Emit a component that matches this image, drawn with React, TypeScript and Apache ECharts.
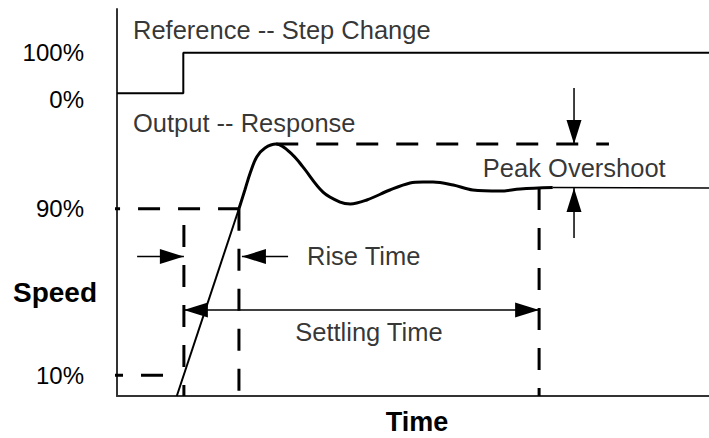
import React, { useEffect, useRef } from 'react';
import * as echarts from 'echarts';

// ---- axes ----
const timeMax = 100;
const speedMax = 186;
const yTickValues = [10, 90, 145.5, 165];
const yTickLabels = ['10%', '90%', '0%', '100%'];

// ---- reference step ----
const referenceX = [0, 11.2, 11.2, 100];
const referenceY = [145.5, 145.5, 165, 165];

// ---- output response ----
const riseX = [10.1, 20.6];
const riseY = [0, 90];
const responseX = [20.6, 21.6, 22.5, 23.6, 25.0, 26.9, 29.7, 31.4, 34.8, 37.7, 39.4, 42.2, 46.1, 49.5, 51.7, 53.4, 56.8, 60.1, 64.7, 68.1, 73.6];
const responseY = [90, 99, 107.2, 114.9, 119.2, 121.1, 115.8, 110.1, 98, 93.2, 92.3, 94.2, 99, 102.4, 102.9, 102.9, 101.4, 99, 98.5, 99.5, 100.2];
const settledX = [73.6, 100];
const settledY = [100.2, 100];

// ---- dashed guides: [x1, y1, x2, y2] ----
const guides = [
  [-3.2, 90, 20.6, 90],
  [-2.7, 10, 8.1, 10],
  [11.3, 82.2, 11.3, 0],
  [20.6, 90, 20.6, 0],
  [71.3, 100, 71.3, 0],
  [26.9, 121.1, 83.1, 121.1],
];

// ---- arrows: [xFrom, yFrom, xTip, yTip, doubleHeaded] ----
const arrows = [
  [3.4, 67, 11.3, 67, 0],
  [28.9, 67, 21.1, 67, 0],
  [11.3, 41.3, 71.3, 41.3, 1],
  [77.2, 148, 77.2, 121.1, 0],
  [77.2, 75.9, 77.2, 100, 0],
];

// ---- annotation texts ----
const annotationTexts = ['Reference -- Step Change', 'Output -- Response', 'Peak Overshoot', 'Rise Time', 'Settling Time'];
const annotationX = [2.7, 2.7, 61.8, 32.1, 30.1];
const annotationY = [176, 131.4, 109.6, 67.3, 30.8];

const FONT = '"Liberation Sans", Arial, Helvetica, sans-serif';

const zip = (xs: number[], ys: number[]) => xs.map((x, i) => [x, ys[i]]);

export default function App() {
  const ref = useRef<HTMLDivElement>(null);
  useEffect(() => {
    if (!ref.current) return;
    const chart = echarts.init(ref.current, null, { renderer: 'svg' });

    const guideSeries = guides.map((g) => ({
      type: 'line',
      data: [[g[0], g[1]], [g[2], g[3]]],
      symbol: 'none',
      clip: false,
      silent: true,
      lineStyle: { color: '#000', width: 3, type: [22, 18] },
    }));

    const option: any = {
      animation: false,
      grid: { left: 117, top: 9, width: 592, height: 387, containLabel: false, outerBoundsMode: 'none' },
      graphic: [
        {
          type: 'text',
          left: 13,
          top: 278,
          style: { text: 'Speed', font: `bold 28px ${FONT}`, fill: '#000' },
        },
      ],
      xAxis: {
        type: 'value',
        min: 0,
        max: timeMax,
        splitLine: { show: false },
        axisTick: { show: false },
        axisLabel: { show: false },
        axisLine: { show: true, lineStyle: { color: '#333', width: 2 } },
        name: 'Time',
        nameLocation: 'middle',
        nameGap: 15,
        nameTextStyle: {
          fontFamily: FONT,
          fontWeight: 'bold',
          fontSize: 27,
          lineHeight: 22,
          color: '#000',
          padding: [0, 0, 0, 8],
        },
      },
      yAxis: {
        type: 'value',
        min: 0,
        max: speedMax,
        splitLine: { show: false },
        axisTick: { show: false },
        axisLine: { show: true, lineStyle: { color: '#333', width: 2 } },
        axisLabel: {
          customValues: yTickValues,
          margin: 33,
          fontFamily: FONT,
          fontSize: 24,
          color: '#000',
          formatter: (v: number) => {
            const i = yTickValues.findIndex((t) => Math.abs(t - v) < 1e-6);
            const label = i >= 0 ? yTickLabels[i] : '';
            return label === '0%' ? '{lo|' + label + '}' : label;
          },
          rich: { lo: { fontFamily: FONT, fontSize: 24, color: '#000', padding: [12, 0, 0, 0] } },
        },
      },
      series: [
        {
          type: 'line',
          data: zip(referenceX, referenceY),
          symbol: 'none',
          silent: true,
          lineStyle: { color: '#000', width: 2 },
        },
        {
          type: 'line',
          data: zip(riseX, riseY),
          symbol: 'none',
          silent: true,
          lineStyle: { color: '#000', width: 2 },
        },
        {
          type: 'line',
          data: zip(responseX, responseY),
          symbol: 'none',
          smooth: 0.35,
          silent: true,
          lineStyle: { color: '#000', width: 3 },
        },
        {
          type: 'line',
          data: zip(settledX, settledY),
          symbol: 'none',
          silent: true,
          lineStyle: { color: '#000', width: 1.5 },
        },
        ...guideSeries,
        {
          type: 'custom',
          silent: true,
          clip: false,
          data: arrows,
          renderItem: (_params: any, api: any) => {
            const p1 = api.coord([api.value(0), api.value(1)]);
            const p2 = api.coord([api.value(2), api.value(3)]);
            const both = api.value(4) === 1;
            const dx = p2[0] - p1[0];
            const dy = p2[1] - p1[1];
            const len = Math.hypot(dx, dy) || 1;
            const ux = dx / len;
            const uy = dy / len;
            const nx = -uy;
            const ny = ux;
            const L = 24;
            const W = 7.5;
            const head = (tip: number[], sx: number, sy: number) => ({
              type: 'polygon',
              shape: {
                points: [
                  [tip[0], tip[1]],
                  [tip[0] - sx * L + nx * W, tip[1] - sy * L + ny * W],
                  [tip[0] - sx * L - nx * W, tip[1] - sy * L - ny * W],
                ],
              },
              style: { fill: '#000' },
            });
            const children: any[] = [
              {
                type: 'line',
                shape: { x1: p1[0], y1: p1[1], x2: p2[0], y2: p2[1] },
                style: { stroke: '#000', lineWidth: 1.5 },
              },
              head(p2, ux, uy),
            ];
            if (both) children.push(head(p1, -ux, -uy));
            return { type: 'group', children };
          },
        },
        {
          type: 'scatter',
          silent: true,
          symbolSize: 0,
          clip: false,
          data: annotationTexts.map((t, i) => ({ name: t, value: [annotationX[i], annotationY[i]] })),
          label: {
            show: true,
            position: 'right',
            distance: 0,
            formatter: '{b}',
            fontFamily: FONT,
            fontSize: 25.5,
            color: '#000',
          },
        },
      ],
    };
    chart.setOption(option);
    return () => chart.dispose();
  }, []);
  return <div ref={ref} style={{ position: 'absolute', left: 0, top: 0, width: 709, height: 438 }} />;
}
